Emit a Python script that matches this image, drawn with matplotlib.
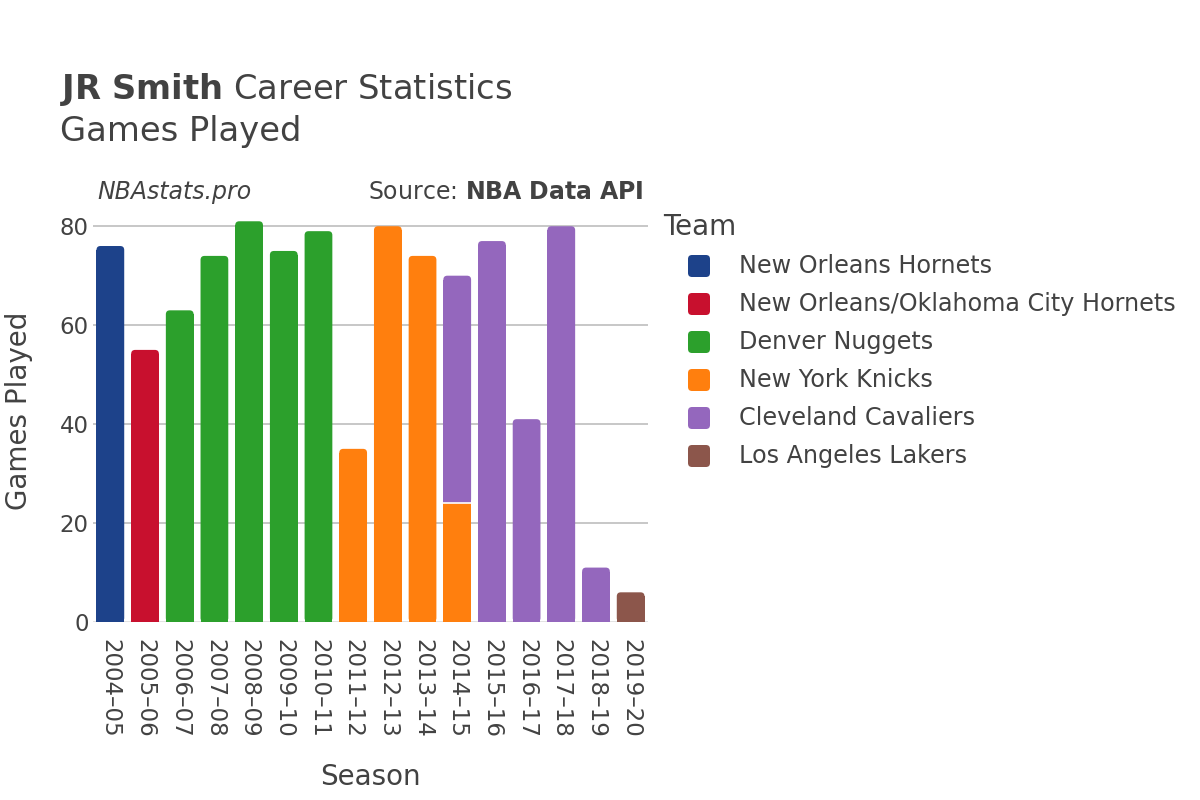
import matplotlib
matplotlib.use("Agg")
import matplotlib.pyplot as plt
from matplotlib.patches import FancyBboxPatch, Rectangle
import numpy as np

seasons = ["2004–05", "2005–06", "2006–07", "2007–08", "2008–09", "2009–10", "2010–11",
           "2011–12", "2012–13", "2013–14", "2014–15", "2015–16", "2016–17", "2017–18",
           "2018–19", "2019–20"]
teams = ["New Orleans Hornets", "New Orleans/Oklahoma City Hornets", "Denver Nuggets",
         "New York Knicks", "Cleveland Cavaliers", "Los Angeles Lakers"]
colors = ["#1d428a", "#c8102e", "#2ca02c", "#ff7f0e", "#9467bd", "#8c564b"]
# games per team per season (0 = not with team)
games = {
    "New Orleans Hornets":               [76, 0, 0, 0, 0, 0, 0, 0, 0, 0, 0, 0, 0, 0, 0, 0],
    "New Orleans/Oklahoma City Hornets": [0, 55, 0, 0, 0, 0, 0, 0, 0, 0, 0, 0, 0, 0, 0, 0],
    "Denver Nuggets":                    [0, 0, 63, 74, 81, 75, 79, 0, 0, 0, 0, 0, 0, 0, 0, 0],
    "New York Knicks":                   [0, 0, 0, 0, 0, 0, 0, 35, 80, 74, 24, 0, 0, 0, 0, 0],
    "Cleveland Cavaliers":               [0, 0, 0, 0, 0, 0, 0, 0, 0, 0, 46, 77, 41, 80, 11, 0],
    "Los Angeles Lakers":                [0, 0, 0, 0, 0, 0, 0, 0, 0, 0, 0, 0, 0, 0, 0, 6],
}

txt = "#424242"
W, H = 1200, 800
fig = plt.figure(figsize=(12, 8), dpi=100)
ax = fig.add_axes([0.0775, 0.2225, 0.4625, 0.5275])

ymax = 85.3
ax.set_xlim(-0.5, len(seasons) - 0.5)
ax.set_ylim(0, ymax)

# pixel scale for rounded corners
px_x = (0.4625 * W) / len(seasons)   # px per x unit
px_y = (0.5275 * H) / ymax           # px per y unit
r_px = 4.0
rx = r_px / px_x
ry = r_px / px_y
aspect = px_x / px_y

x = np.arange(len(seasons))
bw = 0.8
totals = np.zeros(len(seasons))
for team in teams:
    totals += np.array(games[team], dtype=float)

bottom = np.zeros(len(seasons))
for team, col in zip(teams, colors):
    vals = np.array(games[team], dtype=float)
    for i in range(len(seasons)):
        v = vals[i]
        if v <= 0:
            continue
        b = bottom[i]
        left = x[i] - bw / 2
        is_top = abs(b + v - totals[i]) < 1e-9
        if is_top and v > 2 * ry:
            ax.add_patch(FancyBboxPatch((left, b), bw, v,
                                        boxstyle=f"round,pad=0,rounding_size={rx}",
                                        mutation_aspect=aspect, facecolor=col,
                                        edgecolor="none", zorder=3))
            ax.add_patch(Rectangle((left, b), bw, v - ry, facecolor=col,
                                   edgecolor="none", zorder=3))
        else:
            ax.add_patch(Rectangle((left, b), bw, v, facecolor=col,
                                   edgecolor="none", zorder=3))
        if b > 0:
            ax.plot([left, left + bw], [b, b], color="white", linewidth=1.2, zorder=4)
    bottom += vals

ax.set_yticks([0, 20, 40, 60, 80])
ax.grid(axis="y", color="#bdbdbd", linewidth=1.2, zorder=0)
ax.axhline(0, color="#e6e6e6", linewidth=2, zorder=2)
for s in ax.spines.values():
    s.set_visible(False)
ax.set_xticks(x)
ax.set_xticklabels(seasons, rotation=-90, fontsize=16.5, color=txt)
ax.tick_params(axis="y", labelsize=16.5, labelcolor=txt, length=0, pad=3)
ax.tick_params(axis="x", length=0, pad=12)
ax.set_xlabel("Season", fontsize=20, color=txt, labelpad=18)
ax.set_ylabel("Games Played", fontsize=20, color=txt, labelpad=19)

fig.text(60 / W, 1 - 89 / H, r"$\bf{JR\ Smith}$ Career Statistics", fontsize=24.3,
         color=txt, va="center", ha="left")
fig.text(60 / W, 1 - 132 / H, "Games Played", fontsize=24.3, color=txt,
         va="center", ha="left")
fig.text(97 / W, 1 - 192 / H, "NBAstats.pro", fontsize=17, style="italic", color=txt,
         va="center", ha="left")
fig.text(644 / W, 1 - 192 / H, r"Source: $\bf{NBA\ Data\ API}$", fontsize=17,
         color=txt, va="center", ha="right")

# legend drawn manually
fig.text(663 / W, 1 - 227 / H, "Team", fontsize=20, color=txt, va="center", ha="left")
for k, (team, col) in enumerate(zip(teams, colors)):
    yc = 266 + 38 * k
    fig.patches.append(FancyBboxPatch(((688) / W, 1 - (yc + 11) / H), 22 / W, 22 / H,
                                      boxstyle=f"round,pad=0,rounding_size={4 / W}",
                                      mutation_aspect=W / H,
                                      transform=fig.transFigure, facecolor=col,
                                      edgecolor="none"))
    fig.text(739 / W, 1 - yc / H, team, fontsize=17.2, color=txt, va="center", ha="left")

fig.savefig("out.png", dpi=100)
